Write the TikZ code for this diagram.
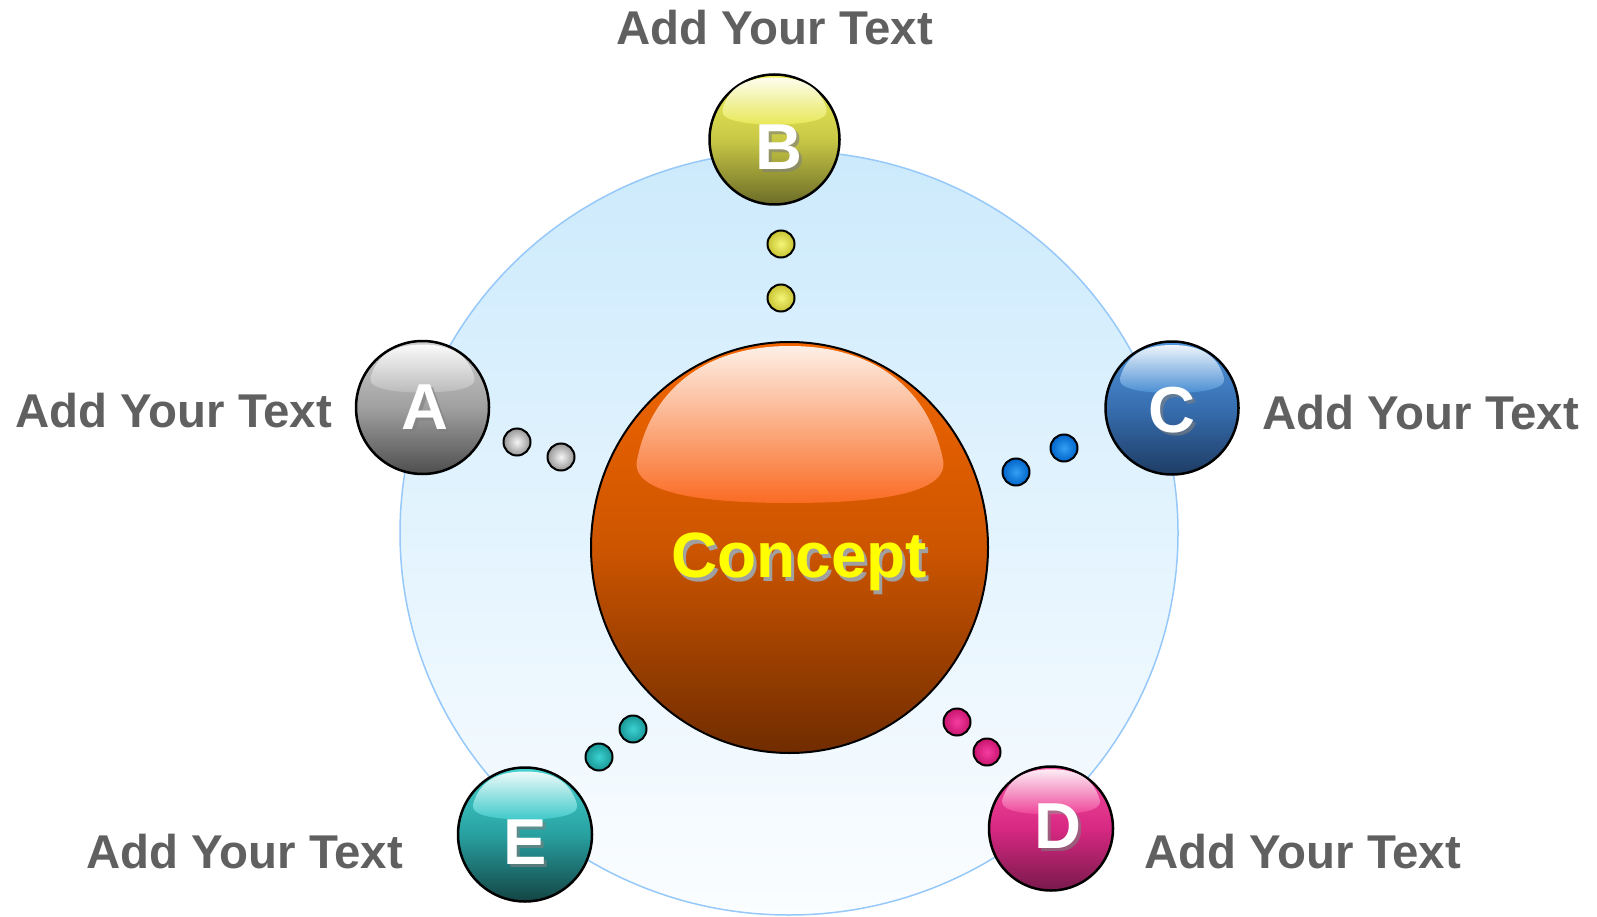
\documentclass[tikz,border=0pt]{standalone}
\usepackage{fontspec}
\setmainfont{Liberation Sans}
\usetikzlibrary{shapes.geometric}

\definecolor{labelgray}{RGB}{96,96,96}
\definecolor{orbittop}{RGB}{204,234,252}
\definecolor{orbitbottom}{RGB}{251,253,255}
\definecolor{orbitline}{RGB}{150,200,250}
\definecolor{conceptyellow}{RGB}{255,255,0}
\definecolor{conceptshade}{RGB}{160,160,160}

\tikzstyle{ball}=[circle, draw=black, line width=2.5pt, inner sep=0pt, minimum size=133pt]
\tikzstyle{dot}=[circle, draw=black, line width=2pt, inner sep=0pt, minimum size=27pt, shading=radial]
\tikzstyle{letter}=[text=white, inner sep=0pt, font=\fontsize{65}{70}\selectfont\bfseries]
\tikzstyle{lettershadow}=[letter, text=black!50, opacity=0.6]
\tikzstyle{caption}=[text=labelgray, inner sep=0pt, anchor=base west, font=\fontsize{47.4}{52}\selectfont\bfseries]
\tikzstyle{gloss}=[fill opacity=0.9]

\begin{document}
\begin{tikzpicture}[x=1pt, y=-1pt]
  \useasboundingbox (0,0) rectangle (1597,917);

  % orbit
  \node[ellipse, draw=orbitline, line width=1.5pt, minimum width=778pt, minimum height=764pt,
    top color=orbittop, bottom color=orbitbottom] (orbit) at (789,533) {};

  % small dots
  \node[dot, inner color={rgb,255:red,245;green,245;blue,245}, outer color={rgb,255:red,150;green,150;blue,150}] (dotA1) at (517,442) {};
  \node[dot, inner color={rgb,255:red,245;green,245;blue,245}, outer color={rgb,255:red,150;green,150;blue,150}] (dotA2) at (561,457) {};
  \node[dot, inner color={rgb,255:red,245;green,245;blue,120}, outer color={rgb,255:red,200;green,195;blue,50}] (dotB1) at (781,244) {};
  \node[dot, inner color={rgb,255:red,245;green,245;blue,120}, outer color={rgb,255:red,200;green,195;blue,50}] (dotB2) at (781,298) {};
  \node[dot, inner color={rgb,255:red,50;green,160;blue,245}, outer color={rgb,255:red,0;green,100;blue,200}] (dotC1) at (1016,472) {};
  \node[dot, inner color={rgb,255:red,50;green,160;blue,245}, outer color={rgb,255:red,0;green,100;blue,200}] (dotC2) at (1064,448) {};
  \node[dot, inner color={rgb,255:red,245;green,60;blue,160}, outer color={rgb,255:red,200;green,20;blue,110}] (dotD1) at (957,722) {};
  \node[dot, inner color={rgb,255:red,245;green,60;blue,160}, outer color={rgb,255:red,200;green,20;blue,110}] (dotD2) at (987,752) {};
  \node[dot, inner color={rgb,255:red,60;green,210;blue,210}, outer color={rgb,255:red,25;green,150;blue,150}] (dotE1) at (633,729) {};
  \node[dot, inner color={rgb,255:red,60;green,210;blue,210}, outer color={rgb,255:red,25;green,150;blue,150}] (dotE2) at (599,757) {};

  % concept ball
  \node[ellipse, draw=black, line width=2pt, minimum width=397pt, minimum height=411pt,
    top color={rgb,255:red,242;green,102;blue,0}, bottom color={rgb,255:red,112;green,44;blue,0},
    middle color={rgb,255:red,205;green,85;blue,0}] (concept) at (789.5,547.5) {};
  \path[gloss, top color=white, bottom color={rgb,255:red,255;green,110;blue,40}]
    (637,460) .. controls (652,385) and (710,346) .. (790,346)
    .. controls (870,346) and (928,385) .. (943,460)
    .. controls (950,495) and (870,503) .. (790,503)
    .. controls (710,503) and (630,495) .. (637,460) -- cycle;
  \node[text=conceptyellow, inner sep=0pt, anchor=base,
    font=\fontsize{64}{70}\selectfont\bfseries] (concepttext) at (799,577)
    {\rlap{\kern3pt\raisebox{-4pt}{\textcolor{conceptshade}{Concept}}}Concept};

  % ball A
  \node[ball, top color={rgb,255:red,205;green,205;blue,205}, bottom color={rgb,255:red,78;green,78;blue,78},
    middle color={rgb,255:red,160;green,160;blue,160}] (ballA) at (422.5,407.5) {};
  \path[gloss, shift={(ballA.center)}, top color=white, bottom color={rgb,255:red,190;green,190;blue,190}]
    (-52,-30) .. controls (-45,-55) and (-25,-63) .. (0,-63) .. controls (25,-63) and (45,-55) .. (52,-30)
    .. controls (55,-18) and (25,-15) .. (0,-15) .. controls (-25,-15) and (-55,-18) .. (-52,-30) -- cycle;
  \node[lettershadow] at (428,410) {A};
  \node[letter] (letA) at (425,407) {A};

  % ball B
  \node[ball, minimum size=130pt, top color={rgb,255:red,240;green,240;blue,90}, bottom color={rgb,255:red,108;green,108;blue,40},
    middle color={rgb,255:red,200;green,200;blue,70}] (ballB) at (774.5,139.5) {};
  \path[gloss, shift={(ballB.center)}, top color=white, bottom color={rgb,255:red,235;green,235;blue,90}]
    (-52,-30) .. controls (-45,-55) and (-25,-62) .. (0,-62) .. controls (25,-62) and (45,-55) .. (52,-30)
    .. controls (55,-18) and (25,-15) .. (0,-15) .. controls (-25,-15) and (-55,-18) .. (-52,-30) -- cycle;
  \node[lettershadow] at (782,150) {B};
  \node[letter] (letB) at (779,147) {B};

  % ball C
  \node[ball, top color={rgb,255:red,80;green,150;blue,220}, bottom color={rgb,255:red,30;green,60;blue,100},
    middle color={rgb,255:red,55;green,110;blue,175}] (ballC) at (1172,408) {};
  \path[gloss, shift={(ballC.center)}, top color=white, bottom color={rgb,255:red,75;green,145;blue,215}]
    (-52,-30) .. controls (-45,-55) and (-25,-63) .. (0,-63) .. controls (25,-63) and (45,-55) .. (52,-30)
    .. controls (55,-18) and (25,-15) .. (0,-15) .. controls (-25,-15) and (-55,-18) .. (-52,-30) -- cycle;
  \node[lettershadow] at (1175,413) {C};
  \node[letter] (letC) at (1172,410) {C};

  % ball D
  \node[ball, minimum size=124pt, top color={rgb,255:red,245;green,80;blue,160}, bottom color={rgb,255:red,120;green,25;blue,75},
    middle color={rgb,255:red,215;green,40;blue,130}] (ballD) at (1051,828.5) {};
  \path[gloss, shift={(ballD.center)}, scale=0.94, top color=white, bottom color={rgb,255:red,240;green,70;blue,155}]
    (-52,-30) .. controls (-45,-55) and (-25,-63) .. (0,-63) .. controls (25,-63) and (45,-55) .. (52,-30)
    .. controls (55,-18) and (25,-15) .. (0,-15) .. controls (-25,-15) and (-55,-18) .. (-52,-30) -- cycle;
  \node[lettershadow] at (1061,829) {D};
  \node[letter] (letD) at (1058,826) {D};

  % ball E
  \node[ball, minimum size=134pt, top color={rgb,255:red,70;green,210;blue,210}, bottom color={rgb,255:red,20;green,68;blue,68},
    middle color={rgb,255:red,40;green,160;blue,160}] (ballE) at (525,834.5) {};
  \path[gloss, shift={(ballE.center)}, top color=white, bottom color={rgb,255:red,65;green,205;blue,205}]
    (-52,-30) .. controls (-45,-55) and (-25,-63) .. (0,-63) .. controls (25,-63) and (45,-55) .. (52,-30)
    .. controls (55,-18) and (25,-15) .. (0,-15) .. controls (-25,-15) and (-55,-18) .. (-52,-30) -- cycle;
  \node[lettershadow] at (528,845) {E};
  \node[letter] (letE) at (525,842) {E};

  % captions
  \node[caption] (capA) at (15,427) {Add Your Text};
  \node[caption] (capB) at (616,45) {Add Your Text};
  \node[caption] (capC) at (1262,429) {Add Your Text};
  \node[caption] (capD) at (1144,868) {Add Your Text};
  \node[caption] (capE) at (86,868) {Add Your Text};
\end{tikzpicture}
\end{document}
